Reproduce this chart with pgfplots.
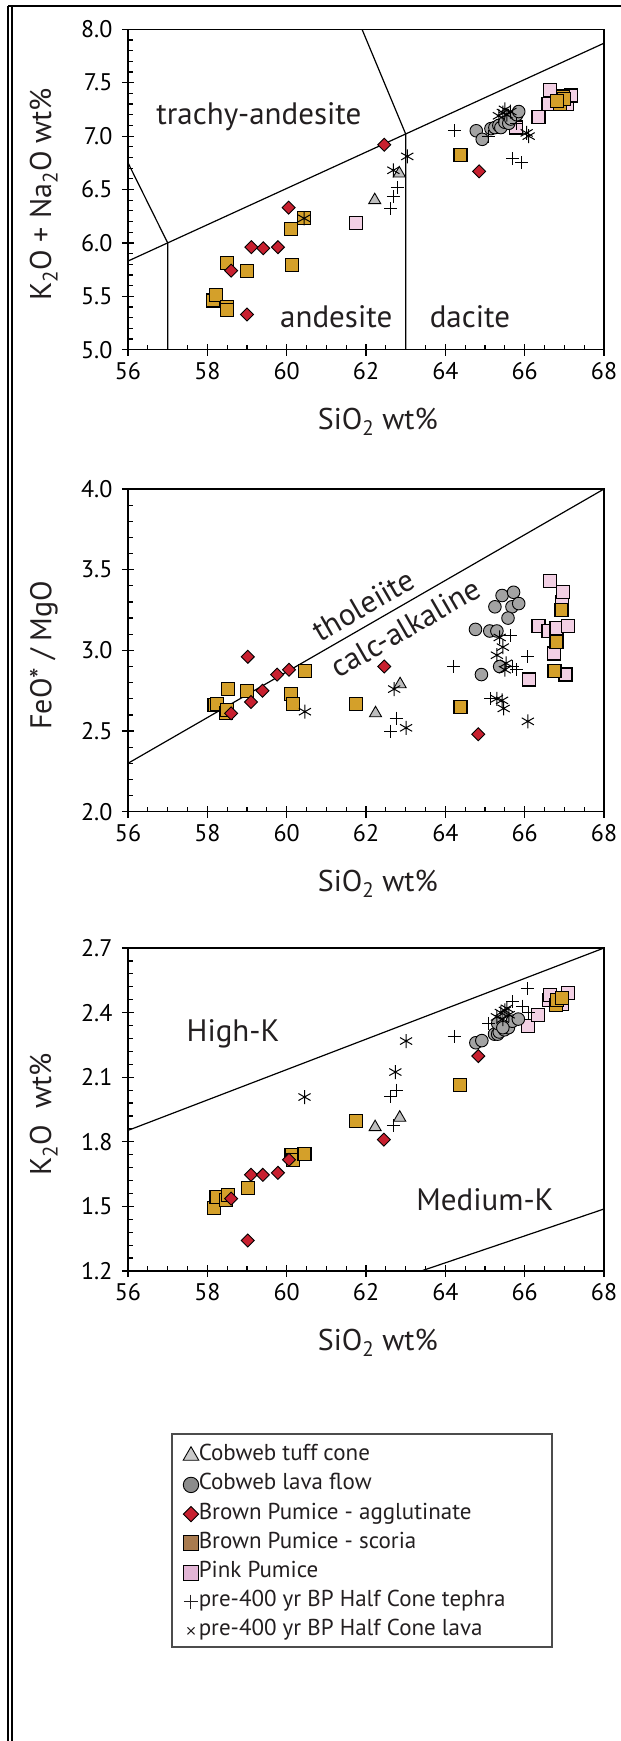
\documentclass[border=0pt]{standalone}
\usepackage{fontspec}
\setmainfont{PT Sans}
\usepackage{pgfplots}
\pgfplotsset{compat=1.18}
\definecolor{goldsq}{HTML}{D4A02A}
\definecolor{redd}{HTML}{C8202F}
\definecolor{pinksq}{HTML}{F2D0E4}
\definecolor{trig}{HTML}{BEBEBE}
\definecolor{circg}{HTML}{A3A3A3}
\definecolor{txt}{HTML}{231F20}
\definecolor{legbrown}{HTML}{A97B4F}
\definecolor{legpink}{HTML}{E2B5D5}
\definecolor{legcirc}{HTML}{8C8C8C}
\definecolor{legtri}{HTML}{C9C9C9}

\pgfplotsset{
  myaxis/.style={
    scale only axis, width=476pt,
    xmin=56, xmax=68, xtick={56,58,...,68}, minor x tick num=3,
    axis line style={line width=1.5pt},
    tick pos=left,
    tick align=center, major tick length=12pt, minor tick length=5pt,
    every tick/.style={black, line width=1.2pt},
    every minor x tick/.append style={yshift=2.5pt},
    every minor y tick/.append style={xshift=2.5pt},
    tick label style={font=\fontsize{24}{29}\selectfont},
    /pgf/number format/assume math mode=true,
    yticklabel style={/pgf/number format/fixed, /pgf/number format/fixed zerofill, /pgf/number format/precision=1, anchor=east, xshift=-6pt},
    xticklabel style={anchor=center, yshift=-15pt},
    xlabel={SiO\textsubscript{2} wt\%},
    label style={font=\fontsize{30}{36}\selectfont, text=txt},
    xlabel style={at={(axis description cs:0.525,0)}, anchor=center, yshift=-72pt},
    ylabel style={at={(axis description cs:-0.177,0.485)}, anchor=center},
  },
  tri/.style={only marks, mark=triangle*, mark size=7pt, mark options={fill=trig, draw=black, line width=0.9pt}},
  circ/.style={only marks, mark=*, mark size=6.3pt, mark options={fill=circg, draw=black, line width=0.9pt}},
  dia/.style={only marks, mark=square*, mark size=4.6pt, mark options={rotate=45, fill=redd, draw=black, line width=0.9pt}},
  gsq/.style={only marks, mark=square*, mark size=6.5pt, mark options={fill=goldsq, draw=black, line width=1.2pt}},
  psq/.style={only marks, mark=square*, mark size=6.5pt, mark options={fill=pinksq, draw=black, line width=1.2pt}},
  tep/.style={only marks, mark=+, mark size=6.5pt, mark options={draw=black, line width=1pt}},
  lav/.style={only marks, mark=asterisk, mark size=7pt, mark options={draw=black, line width=1pt}},
  bline/.style={black, line width=1.2pt, no marks},
}

\begin{document}
\begin{tikzpicture}
\path[use as bounding box] (0pt,0pt) rectangle (621pt,-1741pt);
% outer frame
\draw[line width=2.4pt] (8pt,-6pt) -- (621pt,-6pt);
\draw[line width=2.4pt] (8pt,-6pt) -- (8pt,-1741pt);
\draw[line width=1.2pt] (12pt,-7pt) -- (12pt,-1741pt);

% ---------------- Plot 1: TAS ----------------
\begin{axis}[myaxis, at={(128pt,-349.7pt)}, anchor=south west, height=320.4pt,
  ymin=5, ymax=8, ytick={5,5.5,...,8}, minor y tick num=4,
  ylabel={K\textsubscript{2}O + Na\textsubscript{2}O wt\%}]
\addplot[bline] coordinates {(56,5.83) (57,6.0) (63,7.02) (68,7.87)};
\addplot[bline] coordinates {(56,6.75) (57,6.0) (57,5)};
\addplot[bline] coordinates {(61.9,8.0) (63,7.02) (63,5)};
\node[font=\fontsize{31}{36}\selectfont, text=txt] at (axis cs:59.3,7.18) {trachy-andesite};
\node[font=\fontsize{31}{36}\selectfont, text=txt] at (axis cs:61.25,5.31) {andesite};
\node[font=\fontsize{31}{36}\selectfont, text=txt] at (axis cs:64.62,5.31) {dacite};
\addplot[psq] coordinates {(61.74,6.19) (65.78,7.08) (66.35,7.18) (66.60,7.30) (66.63,7.43) (67.06,7.30) (67.16,7.38)};
\addplot[gsq] coordinates {(58.15,5.46) (58.22,5.51) (58.50,5.40) (58.49,5.37) (58.50,5.81) (59.01,5.74) (60.10,6.13) (60.14,5.79) (60.44,6.23) (64.38,6.82) (66.90,7.30) (66.96,7.37) (67.00,7.35) (66.81,7.33)};
\addplot[dia] coordinates {(58.60,5.74) (59.00,5.33) (59.11,5.96) (59.41,5.95) (59.78,5.96) (60.05,6.33) (62.46,6.92) (64.85,6.67)};
\addplot[tri] coordinates {(62.22,6.40) (62.84,6.65)};
\addplot[circ] coordinates {(64.78,7.05) (64.93,6.97) (65.15,7.07) (65.25,7.08) (65.35,7.10) (65.40,7.08) (65.50,7.13) (65.60,7.12) (65.65,7.16) (65.80,7.20) (65.85,7.23)};
\addplot[tep] coordinates {(62.62,6.32) (62.69,6.43) (62.79,6.52) (64.23,7.05) (65.10,7.00) (65.70,6.79) (65.93,6.75) (65.80,7.12)};
\addplot[lav] coordinates {(60.44,6.23) (62.69,6.68) (63.04,6.81) (65.35,7.19) (65.45,7.22) (65.50,7.25) (65.55,7.20) (65.64,7.23) (66.10,7.00) (66.05,7.03)};
\end{axis}

% ---------------- Plot 2: FeO*/MgO ----------------
\begin{axis}[myaxis, at={(128pt,-811.7pt)}, anchor=south west, height=322.7pt,
  ymin=2, ymax=4, ytick={2,2.5,...,4}, minor y tick num=4,
  ylabel={FeO* / MgO}]
\addplot[bline] coordinates {(56,2.3) (68,4.0)};
\node[font=\fontsize{31}{36}\selectfont, text=txt, rotate=30] at (axis cs:61.93,3.28) {tholeiite};
\node[font=\fontsize{31}{36}\selectfont, text=txt, rotate=30] at (axis cs:63.0,3.14) {calc-alkaline};
\addplot[psq] coordinates {(66.10,2.82) (66.35,3.15) (66.60,3.12) (66.63,3.43) (66.73,2.98) (66.80,3.14) (66.95,3.30) (66.97,3.36) (67.03,2.85) (67.10,3.15)};
\addplot[gsq] coordinates {(58.18,2.66) (58.25,2.67) (58.47,2.61) (58.50,2.63) (58.53,2.76) (59.01,2.75) (60.11,2.73) (60.16,2.67) (60.46,2.87) (61.75,2.67) (64.38,2.65) (66.75,2.87) (66.80,3.05) (66.93,3.25)};
\addplot[dia] coordinates {(58.60,2.61) (59.02,2.96) (59.10,2.68) (59.39,2.75) (59.76,2.85) (60.06,2.88) (62.46,2.90) (64.83,2.48)};
\addplot[tri] coordinates {(62.24,2.61) (62.86,2.79)};
\addplot[circ] coordinates {(64.76,3.13) (64.91,2.85) (65.12,3.12) (65.30,3.12) (65.25,3.27) (65.43,3.34) (65.72,3.36) (65.68,3.27) (65.85,3.29) (65.58,3.20) (65.37,2.90)};
\addplot[tep] coordinates {(62.62,2.50) (62.76,2.58) (64.21,2.90) (65.15,2.70) (65.65,3.09) (65.70,2.90) (65.80,2.88) (66.08,2.96)};
\addplot[lav] coordinates {(60.46,2.62) (62.71,2.76) (63.01,2.52) (65.30,2.97) (65.37,3.08) (65.45,3.02) (65.53,2.92) (65.50,2.88) (65.30,2.70) (65.43,2.69) (65.47,2.64) (66.08,2.56)};
\end{axis}

% ---------------- Plot 3: K2O ----------------
\begin{axis}[myaxis, at={(128pt,-1271pt)}, anchor=south west, height=323pt,
  ymin=1.2, ymax=2.7, ytick={1.2,1.5,1.8,2.1,2.4,2.7}, minor y tick num=4,
  ylabel={K\textsubscript{2}O\ \ wt\%}]
\addplot[bline] coordinates {(56,1.853) (68,2.7)};
\addplot[bline] coordinates {(63.39,1.2) (68,1.488)};
\node[font=\fontsize{31}{36}\selectfont, text=txt] at (axis cs:58.65,2.30) {High-K};
\node[font=\fontsize{31}{36}\selectfont, text=txt] at (axis cs:65.0,1.53) {Medium-K};
\addplot[psq] coordinates {(66.09,2.336) (66.34,2.390) (66.62,2.46) (66.64,2.48) (66.94,2.44) (67.09,2.49)};
\addplot[gsq] coordinates {(58.16,1.492) (58.23,1.543) (58.48,1.528) (58.52,1.554) (59.02,1.585) (60.12,1.737) (60.15,1.714) (60.45,1.745) (61.75,1.895) (64.37,2.065) (66.79,2.437) (66.82,2.457) (66.94,2.469)};
\addplot[dia] coordinates {(58.60,1.536) (59.02,1.342) (59.10,1.647) (59.40,1.647) (59.78,1.656) (60.06,1.717) (62.45,1.810) (64.83,2.198)};
\addplot[tri] coordinates {(62.23,1.868) (62.85,1.912)};
\addplot[circ] coordinates {(64.77,2.26) (64.92,2.27) (65.24,2.30) (65.32,2.30) (65.36,2.31) (65.49,2.32) (65.32,2.35) (65.59,2.33) (65.69,2.36) (65.84,2.37) (65.45,2.33)};
\addplot[tep] coordinates {(62.62,2.01) (62.69,1.876) (62.77,2.04) (64.22,2.29) (65.09,2.35) (65.69,2.45) (65.94,2.43) (66.07,2.51) (66.10,2.40)};
\addplot[lav] coordinates {(60.45,2.008) (62.74,2.124) (63.01,2.268) (65.30,2.38) (65.40,2.40) (65.45,2.37) (65.50,2.41) (65.60,2.39) (65.55,2.42)};
\end{axis}

% ---------------- Legend ----------------
\draw[black!70, line width=1.3pt] (172pt,-1434pt) rectangle (552pt,-1647pt);
\begin{axis}[hide axis, scale only axis, width=10pt, height=10pt,
  at={(183pt,-1444.5pt)}, anchor=north west, xmin=0, xmax=1, ymin=0, ymax=1,
  legend cell align=left,
  legend image code/.code={\draw[mark repeat=2,mark phase=2,#1] plot coordinates {(0pt,0pt) (11pt,0pt) (22pt,0pt)};},
  legend style={at={(0,1)}, anchor=north west, draw=none, fill=none, inner sep=0pt,
    font=\fontsize{23}{27}\selectfont, text=txt, row sep=7.2pt,
    nodes={inner sep=0pt, text height=16pt, text depth=6pt, xshift=4pt}}]
\addlegendimage{only marks, mark=triangle*, mark size=9pt, mark options={fill=legtri, draw=black, line width=0.9pt}}
\addlegendentry{Cobweb tuff cone}
\addlegendimage{only marks, mark=*, mark size=7.7pt, mark options={fill=legcirc, draw=black, line width=0.9pt}}
\addlegendentry{Cobweb lava flow}
\addlegendimage{only marks, mark=square*, mark size=5.4pt, mark options={rotate=45, fill=redd, draw=black, line width=0.9pt}}
\addlegendentry{Brown Pumice - agglutinate}
\addlegendimage{only marks, mark=square*, mark size=7.5pt, mark options={fill=legbrown, draw=black, line width=0.9pt}}
\addlegendentry{Brown Pumice - scoria}
\addlegendimage{only marks, mark=square*, mark size=7.5pt, mark options={fill=legpink, draw=black, line width=0.9pt}}
\addlegendentry{Pink Pumice}
\addlegendimage{only marks, mark=+, mark size=7pt, mark options={draw=txt, line width=1pt}}
\addlegendentry{pre-400 yr BP Half Cone tephra}
\addlegendimage{only marks, mark=x, mark size=5pt, mark options={draw=txt, line width=1pt}}
\addlegendentry{pre-400 yr BP Half Cone lava}
\end{axis}
\end{tikzpicture}
\end{document}
